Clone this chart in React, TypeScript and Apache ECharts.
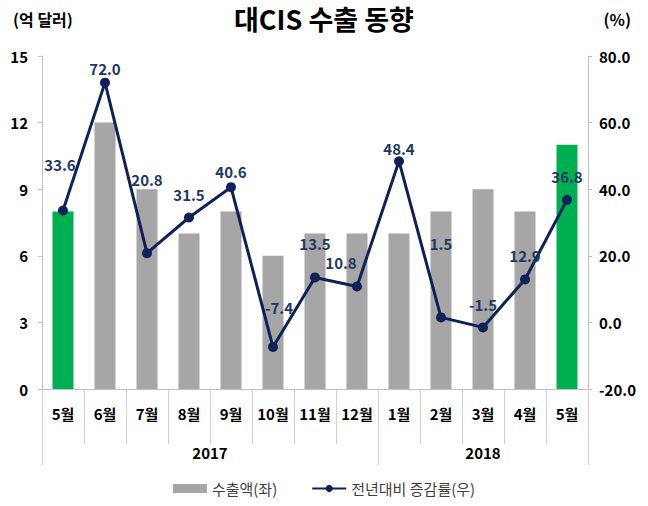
import React, { useEffect, useRef } from "react";
import * as echarts from "echarts";

const months = ["5월", "6월", "7월", "8월", "9월", "10월", "11월", "12월", "1월", "2월", "3월", "4월", "5월"];
const exports = [8, 12, 9, 7, 8, 6, 7, 7, 7, 8, 9, 8, 11];
const growth = [33.6, 72.0, 20.8, 31.5, 40.6, -7.4, 13.5, 10.8, 48.4, 1.5, -1.5, 12.9, 36.8];
const years = ["2017", "2018"];
const yearStarts = [0, 8];
const highlighted = [0, 12];

const labelOffsets: [number, number][] = [
  [-3, -29], [0, 3], [0, -56], [0, -6], [0, 2], [6, -22], [0, -16],
  [-16, -6], [0, 5], [0, -56], [0, -5], [0, -6], [0, -6],
];

const FONT = "'Noto Sans CJK KR', 'Noto Sans', sans-serif";
const SEP = "#d0d0d0";

export default function App() {
  const ref = useRef<HTMLDivElement>(null);
  useEffect(() => {
    document.body.style.margin = "0";
    const chart = echarts.init(ref.current!, null, { renderer: "svg" });
    const n = months.length;
    const yearCenters = years.map((_, i) => {
      const s = yearStarts[i];
      const e = i + 1 < yearStarts.length ? yearStarts[i + 1] : n;
      return (s + e) / 2;
    });
    const yearBounds = [...yearStarts, n];
    chart.setOption({
      animation: false,
      textStyle: { fontFamily: FONT },
      title: [
        { text: "대CIS 수출 동향", left: "center", top: 0, textStyle: { fontFamily: FONT, fontSize: 27, fontWeight: "bold", color: "#000" } },
        { text: "(억 달러)", left: 8, top: 6, textStyle: { fontFamily: FONT, fontSize: 16, fontWeight: "bold", color: "#000" } },
        { text: "(%)", right: 12, top: 6, textStyle: { fontFamily: FONT, fontSize: 16, fontWeight: "bold", color: "#000" } },
      ],
      grid: { left: 42, right: 60, top: 56, bottom: 117, containLabel: false },
      legend: {
        bottom: 5,
        left: "center",
        itemGap: 34,
        itemWidth: 34,
        itemHeight: 9,
        textStyle: { fontFamily: FONT, fontSize: 15, color: "#404040" },
        data: [
          { name: "수출액(좌)", icon: "rect" },
          { name: "전년대비 증감률(우)" },
        ],
      },
      xAxis: [
        {
          type: "category",
          data: months,
          axisLine: { lineStyle: { color: "#bfbfbf" } },
          axisTick: { show: true, interval: 0, length: 55, lineStyle: { color: SEP } },
          axisLabel: { interval: 0, margin: 17, fontSize: 15, fontWeight: "bold", color: "#000", fontFamily: FONT },
        },
        {
          type: "value",
          position: "bottom",
          min: 0,
          max: n,
          axisLine: { show: false, onZero: false },
          splitLine: { show: false },
          axisTick: { show: false },
          axisLabel: {
            customValues: yearCenters,
            margin: 56,
            fontSize: 15,
            fontWeight: "bold",
            color: "#000",
            fontFamily: FONT,
            formatter: (v: number) => {
              const i = yearCenters.indexOf(v);
              return i >= 0 ? years[i] : "";
            },
          },
        },
      ],
      yAxis: [
        {
          type: "value",
          min: 0,
          max: 15,
          interval: 3,
          splitLine: { show: false },
          axisLine: { show: true, lineStyle: { color: "#bfbfbf" } },
          axisTick: { show: true, length: 4, lineStyle: { color: "#bfbfbf" } },
          axisLabel: { margin: 14, fontSize: 15, fontWeight: "bold", color: "#000", fontFamily: FONT },
        },
        {
          type: "value",
          min: -20,
          max: 80,
          interval: 20,
          splitLine: { show: false },
          axisLine: { show: true, lineStyle: { color: "#bfbfbf" } },
          axisTick: { show: true, length: 4, lineStyle: { color: "#bfbfbf" } },
          axisLabel: { margin: 11, fontSize: 15, fontWeight: "bold", color: "#000", fontFamily: FONT, formatter: (v: number) => v.toFixed(1) },
        },
      ],
      series: [
        {
          name: "수출액(좌)",
          type: "bar",
          xAxisIndex: 0,
          yAxisIndex: 0,
          barWidth: "50%",
          itemStyle: { color: "#a6a6a6" },
          data: exports.map((v, i) =>
            highlighted.includes(i) ? { value: v, itemStyle: { color: "#00b050" } } : v
          ),
        },
        {
          name: "전년대비 증감률(우)",
          type: "line",
          xAxisIndex: 0,
          yAxisIndex: 1,
          symbol: "circle",
          symbolSize: 10,
          lineStyle: { color: "#0e2158", width: 3 },
          itemStyle: { color: "#0e2158" },
          label: {
            show: true,
            position: "top",
            fontSize: 15,
            fontWeight: "bold",
            color: "#1f3864",
            fontFamily: FONT,
            formatter: (p: any) => Number(p.value).toFixed(1),
          },
          data: growth.map((v, i) => ({ value: v, label: { offset: labelOffsets[i] } })),
        },
        {
          name: "yearSeparators",
          type: "custom",
          xAxisIndex: 1,
          yAxisIndex: 0,
          clip: false,
          silent: true,
          z: 1,
          data: yearBounds.map((b) => [b, 0]),
          renderItem: (params: any, api: any) => {
            const p = api.coord([api.value(0), api.value(1)]);
            const x = Math.round(p[0]) + 0.5;
            return {
              type: "line",
              shape: { x1: x, y1: p[1], x2: x, y2: p[1] + 76 },
              style: { stroke: SEP, lineWidth: 1 },
            };
          },
        },
      ],
    });
    return () => chart.dispose();
  }, []);
  return <div ref={ref} style={{ width: 648, height: 506 }} />;
}
